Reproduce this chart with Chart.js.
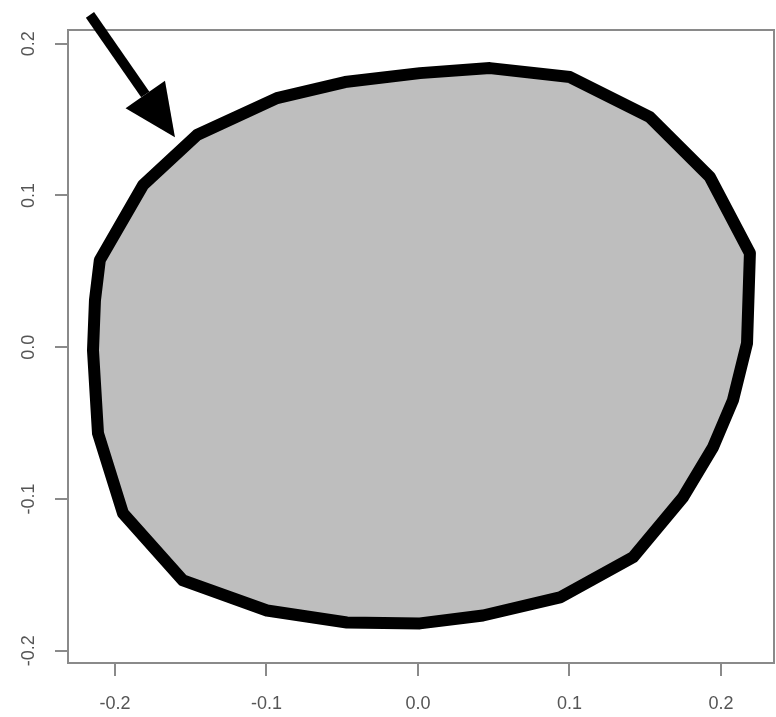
<!DOCTYPE html>
<html>
<head>
<meta charset="utf-8">
<script src="https://cdn.jsdelivr.net/npm/chart.js@4"></script>
<style>
    html, body { margin: 0; padding: 0; background: #fff; }
    #wrap { width: 776px; height: 717px; }
</style>
</head>
<body>
<div id="wrap"><canvas id="shapeChart"></canvas></div>
<script>
// outline of the shape (clockwise from the upper left)
const outlineX = [-0.210, -0.1815, -0.1459, -0.0931, -0.0482, 0.0013, 0.0475, 0.1003, 0.1531, 0.1927,
    0.2191, 0.2172, 0.2079, 0.1947, 0.1749, 0.1419, 0.0937, 0.0429, 0.0013, -0.0469,
    -0.0997, -0.1551, -0.1947, -0.2112, -0.2145, -0.2132];
const outlineY = [0.0574, 0.1068, 0.1398, 0.1641, 0.1747, 0.1806, 0.1839, 0.1780, 0.1516, 0.1121,
    0.0620, 0.0026, -0.0349, -0.0659, -0.0989, -0.1384, -0.1648, -0.1767, -0.1819, -0.1813,
    -0.1734, -0.1536, -0.1094, -0.0567, -0.0020, 0.0310];

// arrow: tail, then tip
const arrowX = [-0.2165, -0.1604];
const arrowY = [0.2189, 0.1384];

const xTicks = [-0.2, -0.1, 0.0, 0.1, 0.2];
const yTicks = [-0.2, -0.1, 0.0, 0.1, 0.2];

const points = outlineX.map((x, i) => ({ x, y: outlineY[i] }));
points.push({ x: outlineX[0], y: outlineY[0] });

const AXIS_GRAY = '#8a8a8a';
const LABEL_GRAY = '#555555';

const boxAndArrow = {
    id: 'boxAndArrow',
    afterDatasetsDraw(chart) {
        const { ctx, chartArea: a, scales } = chart;
        ctx.save();
        ctx.strokeStyle = AXIS_GRAY;
        ctx.lineWidth = 2;
        ctx.strokeRect(a.left, a.top, a.width, a.height);

        const x0 = scales.x.getPixelForValue(arrowX[0]);
        const y0 = scales.y.getPixelForValue(arrowY[0]);
        const x1 = scales.x.getPixelForValue(arrowX[1]);
        const y1 = scales.y.getPixelForValue(arrowY[1]);
        const ang = Math.atan2(y1 - y0, x1 - x0);
        const headLen = 52, headHalf = 24;
        const bx = x1 - headLen * Math.cos(ang);
        const by = y1 - headLen * Math.sin(ang);

        ctx.strokeStyle = '#000';
        ctx.lineWidth = 10;
        ctx.beginPath();
        ctx.moveTo(x0, y0);
        ctx.lineTo(bx, by);
        ctx.stroke();

        ctx.fillStyle = '#000';
        ctx.beginPath();
        ctx.moveTo(x1, y1);
        ctx.lineTo(bx + headHalf * Math.sin(ang), by - headHalf * Math.cos(ang));
        ctx.lineTo(bx - headHalf * Math.sin(ang), by + headHalf * Math.cos(ang));
        ctx.closePath();
        ctx.fill();
        ctx.restore();
    },
};

const tickFont = { family: '"Liberation Sans", Arial, sans-serif', size: 18 };

new Chart(document.getElementById('shapeChart'), {
    type: 'scatter',
    data: {
        datasets: [{
            data: points,
            showLine: true,
            fill: 'shape',
            backgroundColor: '#bebebe',
            borderColor: '#000',
            borderWidth: 12,
            borderJoinStyle: 'round',
            borderCapStyle: 'round',
            pointRadius: 0,
            tension: 0,
        }],
    },
    options: {
        responsive: true,
        maintainAspectRatio: false,
        animation: false,
        events: [],
        layout: { padding: { top: 30, right: 2, left: 0, bottom: 0 } },
        plugins: { legend: { display: false }, tooltip: { enabled: false } },
        scales: {
            x: {
                type: 'linear',
                min: -0.231,
                max: 0.235,
                afterBuildTicks: (s) => { s.ticks = xTicks.map((v) => ({ value: v })); },
                afterFit: (s) => { s.height = 54; },
                border: { display: false },
                grid: { drawOnChartArea: false, tickLength: 13, color: AXIS_GRAY, lineWidth: 2 },
                ticks: {
                    color: LABEL_GRAY,
                    font: tickFont,
                    padding: 17,
                    maxRotation: 0,
                    callback: (v) => Number(v).toFixed(1),
                },
            },
            y: {
                type: 'linear',
                min: -0.208,
                max: 0.209,
                afterBuildTicks: (s) => { s.ticks = yTicks.map((v) => ({ value: v })); },
                afterFit: (s) => { s.width = 68; },
                border: { display: false },
                grid: { drawOnChartArea: false, tickLength: 13, color: AXIS_GRAY, lineWidth: 2 },
                ticks: {
                    color: LABEL_GRAY,
                    font: tickFont,
                    padding: 10,
                    minRotation: 90,
                    maxRotation: 90,
                    crossAlign: 'center',
                    callback: (v) => Number(v).toFixed(1),
                },
            },
        },
    },
    plugins: [boxAndArrow],
});
</script>
</body>
</html>
